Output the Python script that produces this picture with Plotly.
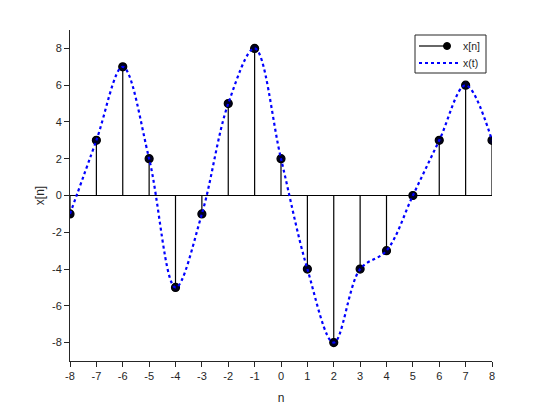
import plotly.graph_objects as go

n = list(range(-8, 9))
xn = [-1, 3, 7, 2, -5, -1, 5, 8, 2, -4, -8, -4, -3, 0, 3, 6, 3]
y_ticks = [-8, -6, -4, -2, 0, 2, 4, 6, 8]
x_ticks = list(range(-8, 9))
legend_labels = ["x[n]", "x(t)"]

stem_x, stem_y = [], []
for k, v in zip(n, xn):
    stem_x += [k, k, None]
    stem_y += [0, v, None]

fig = go.Figure()
fig.add_trace(go.Scatter(x=stem_x, y=stem_y, mode="lines",
                         line=dict(color="black", width=1.2),
                         showlegend=False, hoverinfo="skip"))
fig.add_trace(go.Scatter(x=[n[0], n[-1]], y=[0, 0], mode="lines",
                         line=dict(color="black", width=1.2),
                         showlegend=False, hoverinfo="skip"))
fig.add_trace(go.Scatter(x=n, y=xn, mode="markers",
                         marker=dict(color="#000022", size=8,
                                     line=dict(color="black", width=1.2)),
                         name=legend_labels[0], showlegend=False))
fig.add_trace(go.Scatter(x=n, y=xn, mode="lines", line_shape="spline",
                         line=dict(color="#0000ff", width=2.2, dash="dot", smoothing=1.0),
                         name=legend_labels[1], showlegend=False))

font_family = "Liberation Sans, Arial"
axis_common = dict(showgrid=False, zeroline=False, showline=True,
                   linecolor="#262626", linewidth=1, ticks="outside",
                   ticklen=5, tickcolor="#262626", tickwidth=1, automargin=False,
                   tickfont=dict(family=font_family, size=11, color="#262626"))

# page (browser) pixel geometry of the plot area; body has an 8px margin
PL, PR, PT, PB = 70, 492, 30, 361
def px(x):
    return (x - PL) / (PR - PL)
def py(y):
    return (PB - y) / (PB - PT)

shapes = [
    dict(type="rect", xref="paper", yref="paper", x0=px(415), x1=px(486), y0=py(73), y1=py(35),
         line=dict(color="#262626", width=1), fillcolor="white", layer="above"),
    dict(type="line", xref="paper", yref="paper", x0=px(419), x1=px(447), y0=py(46), y1=py(46),
         line=dict(color="black", width=1.2), layer="above"),
    dict(type="circle", xref="paper", yref="paper", x0=px(443.5), x1=px(450.5), y0=py(49.5), y1=py(42.5),
         line=dict(color="black", width=1), fillcolor="black", layer="above"),
    dict(type="line", xref="paper", yref="paper", x0=px(419), x1=px(460), y0=py(63), y1=py(63),
         line=dict(color="#0000ff", width=2.2, dash="dot"), layer="above"),
]
annotations = [
    dict(xref="paper", yref="paper", x=px(461), y=py(46), text=legend_labels[0], showarrow=False,
         xanchor="left", yanchor="middle", font=dict(family=font_family, size=10.5, color="#262626")),
    dict(xref="paper", yref="paper", x=px(461), y=py(63), text=legend_labels[1], showarrow=False,
         xanchor="left", yanchor="middle", font=dict(family=font_family, size=10.5, color="#262626")),
]

W, H = 537, 401
fig.update_layout(
    width=W, height=H,
    margin=dict(l=PL - 8, r=W - (PR - 8), t=PT - 8, b=H - (PB - 8)),
    plot_bgcolor="white", paper_bgcolor="white",
    xaxis=dict(range=[-8, 8], tickvals=x_ticks, ticktext=[str(v) for v in x_ticks],
               title=dict(text="n", font=dict(family=font_family, size=12, color="#262626"), standoff=12),
               **axis_common),
    yaxis=dict(range=[-9, 9], tickvals=y_ticks, ticktext=[str(v) for v in y_ticks],
               title=dict(text="x[n]", font=dict(family=font_family, size=12, color="#262626"), standoff=4),
               **axis_common),
    shapes=shapes, annotations=annotations,
    showlegend=False,
)

fig.write_html("out.html")
